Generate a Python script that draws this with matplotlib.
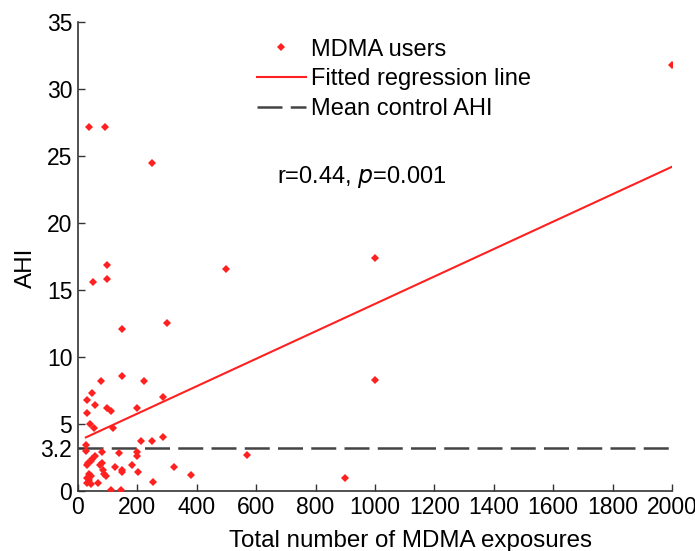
import matplotlib
matplotlib.use("Agg")
import matplotlib.pyplot as plt
import numpy as np

plt.rcParams['font.family'] = ['Liberation Sans', 'DejaVu Sans']

# MDMA users: total exposures vs AHI
exposures = [2000, 37, 91, 249, 98, 50, 98, 498, 1000, 148, 300, 1000,
             147, 77, 222, 46, 31, 58, 285, 97, 110, 198, 31,
             40, 55, 119, 27, 211, 250, 285, 27, 80, 138, 198, 198,
             57, 49, 43, 35, 80, 31, 74, 181, 323, 570, 125, 147, 147,
             85, 380, 37, 45, 30, 37, 88, 96, 201, 30, 45, 67, 253, 900,
             112, 144]
ahi = [31.8, 27.2, 27.2, 24.5, 16.9, 15.6, 15.8, 16.6, 17.4, 12.1, 12.5, 8.3,
       8.6, 8.2, 8.2, 7.3, 6.8, 6.4, 7.0, 6.2, 6.0, 6.2, 5.8,
       5.0, 4.7, 4.7, 3.4, 3.7, 3.7, 4.0, 3.0, 2.9, 2.8, 2.9, 2.6,
       2.6, 2.4, 2.25, 2.1, 2.1, 1.9, 1.9, 1.9, 1.8, 2.7, 1.8, 1.6, 1.4,
       1.55, 1.2, 1.3, 1.1, 1.0, 0.85, 1.3, 1.15, 1.4, 0.6, 0.5, 0.6, 0.7, 1.0,
       0.05, 0.05]

reg_intercept = 3.72
reg_slope = 0.01024
mean_control_ahi = 3.2

xticks = [0, 200, 400, 600, 800, 1000, 1200, 1400, 1600, 1800, 2000]
yticks = [0, 3.2, 5, 10, 15, 20, 25, 30, 35]
ytick_labels = ['0', '3.2', '5', '10', '15', '20', '25', '30', '35']

fig = plt.figure(figsize=(6.95, 5.51), dpi=100)
ax = fig.add_axes([0.112, 0.109, 0.855, 0.851])

red = '#ff2020'
ax.plot(exposures, ahi, linestyle='none', marker='D', markersize=4.2,
        color=red, markeredgewidth=0, label='MDMA users', zorder=3)

xl = np.array([min(exposures), max(exposures)])
ax.plot(xl, reg_intercept + reg_slope * xl, color=red, linewidth=1.5,
        label='Fitted regression line', zorder=2)

ax.plot([0, 2000], [mean_control_ahi, mean_control_ahi], color='#444444',
        linewidth=1.8, dashes=(10, 3.3), label='Mean control AHI', zorder=1)

ax.set_xlim(0, 2000)
ax.set_ylim(0, 35)
ax.set_xticks(xticks)
ax.set_yticks(yticks)
ax.set_yticklabels(ytick_labels)
ax.tick_params(direction='in', labelsize=16.5, length=5, width=1, colors='#333333',
               labelcolor='black', pad=4)
for s in ['top', 'right']:
    ax.spines[s].set_visible(False)
for s in ['left', 'bottom']:
    ax.spines[s].set_color('#333333')
    ax.spines[s].set_linewidth(1.2)

ax.set_xlabel('Total number of MDMA exposures', fontsize=17.4, va='center')
ax.xaxis.set_label_coords(0.56, -0.107)
ax.set_ylabel('AHI', fontsize=17.4, va='center')
ax.yaxis.set_label_coords(-0.088, 0.475)

leg = ax.legend(loc='upper left', bbox_to_anchor=(0.285, 0.985), frameon=False,
                fontsize=17, handlelength=2.1, handletextpad=0.2,
                labelspacing=0.33, borderaxespad=0)

ax.text(670, 23.0, r'r=0.44, $\it{p}$=0.001', fontsize=17, va='baseline')

fig.savefig('out.png', dpi=100)
